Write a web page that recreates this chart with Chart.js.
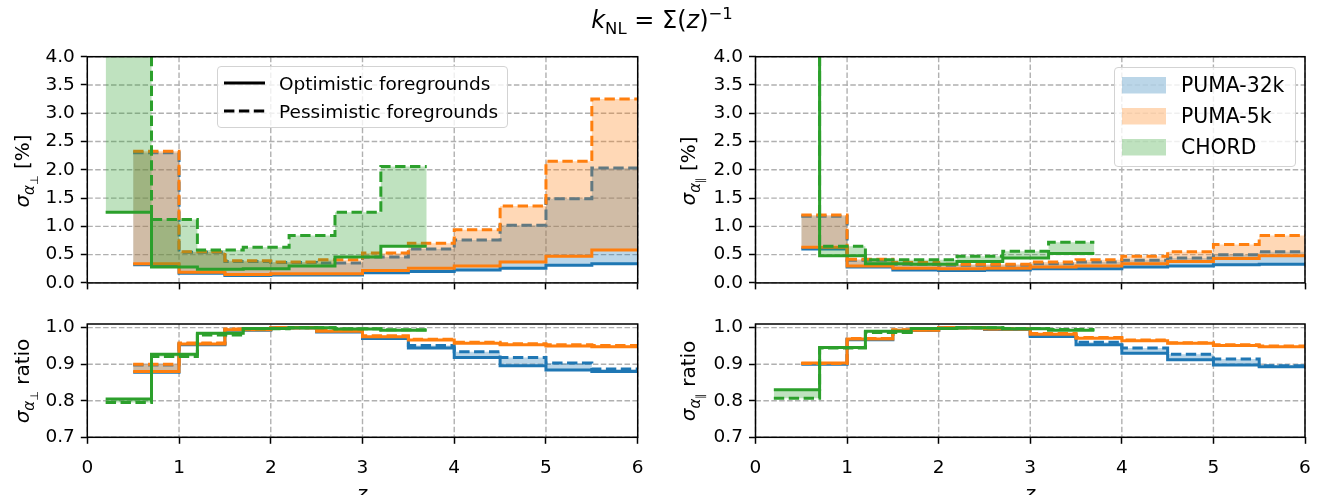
<!DOCTYPE html>
<html>
<head>
<meta charset="utf-8">
<script src="https://cdn.jsdelivr.net/npm/chart.js@4.4.0/dist/chart.umd.min.js"></script>
<style>
  body { margin: 0; width: 1325px; height: 495px; background: #fff; position: relative; overflow: hidden;
         font-family: 'DejaVu Sans', sans-serif; color: #000; }
  canvas { position: absolute; }
  .lbl { position: absolute; white-space: nowrap; transform: translate(-50%, -50%); }
  .rot { transform: translate(-50%, -50%) rotate(-90deg); }
  sub, sup { line-height: 0; }
  .legend { position: absolute; background: rgba(255,255,255,0.8); border: 1px solid #d3d3d3; border-radius: 4px; box-sizing: border-box; }
  .legend .row { position: absolute; left: 0; white-space: nowrap; }
</style>
</head>
<body>

<canvas id="perp" width="662" height="300" style="left:0;top:0"></canvas>
<canvas id="par" width="663" height="300" style="left:662px;top:0"></canvas>
<canvas id="perpRatio" width="662" height="195" style="left:0;top:300px"></canvas>
<canvas id="parRatio" width="663" height="195" style="left:662px;top:300px"></canvas>

<div class="lbl" style="left:662px;top:20px;font-size:24px"><i>k</i><sub style="font-size:16.5px">NL</sub> = Σ(<i>z</i>)<sup style="font-size:16.5px">−1</sup></div>

<div class="lbl rot" style="left:22px;top:171px;font-size:20px"><i>σ</i><sub style="font-size:15px"><i>α</i><sub style="font-size:11px">⊥</sub></sub> [%]</div>
<div class="lbl rot" style="left:22px;top:381px;font-size:20px"><i>σ</i><sub style="font-size:15px"><i>α</i><sub style="font-size:11px">⊥</sub></sub> ratio</div>
<div class="lbl rot" style="left:688px;top:171px;font-size:20px"><i>σ</i><sub style="font-size:15px"><i>α</i><sub style="font-size:11px">∥</sub></sub> [%]</div>
<div class="lbl rot" style="left:688px;top:381px;font-size:20px"><i>σ</i><sub style="font-size:15px"><i>α</i><sub style="font-size:11px">∥</sub></sub> ratio</div>
<div class="lbl" style="left:362px;top:493px;font-size:20px"><i>z</i></div>
<div class="lbl" style="left:1030px;top:493px;font-size:20px"><i>z</i></div>

<div class="legend" style="left:217px;top:66px;width:291px;height:62px;font-size:18.5px">
  <div class="row" style="top:4px"><svg width="60" height="24" style="vertical-align:middle"><line x1="6" y1="12" x2="47" y2="12" stroke="#000" stroke-width="3"/></svg><span style="margin-left:1px;vertical-align:middle">Optimistic foregrounds</span></div>
  <div class="row" style="top:32px"><svg width="60" height="24" style="vertical-align:middle"><line x1="6" y1="12" x2="47" y2="12" stroke="#000" stroke-width="3" stroke-dasharray="10.4 4.5"/></svg><span style="margin-left:1px;vertical-align:middle">Pessimistic foregrounds</span></div>
</div>

<div class="legend" style="left:1114px;top:67px;width:182px;height:100px;font-size:20.4px">
  <div class="row" style="top:4px"><svg width="66" height="26" style="vertical-align:middle"><rect x="7" y="5" width="44" height="16.5" fill="rgba(31,119,180,0.3)"/></svg><span style="vertical-align:middle">PUMA-32k</span></div>
  <div class="row" style="top:35px"><svg width="66" height="26" style="vertical-align:middle"><rect x="7" y="5" width="44" height="16.5" fill="rgba(255,127,14,0.3)"/></svg><span style="vertical-align:middle">PUMA-5k</span></div>
  <div class="row" style="top:66px"><svg width="66" height="26" style="vertical-align:middle"><rect x="7" y="5" width="44" height="16.5" fill="rgba(44,160,44,0.3)"/></svg><span style="vertical-align:middle">CHORD</span></div>
</div>

<script>
// redshift bin edges
const zPuma = [0.5, 1.0, 1.5, 2.0, 2.5, 3.0, 3.5, 4.0, 4.5, 5.0, 5.5, 6.0];
const zChord = [0.2, 0.7, 1.2, 1.7, 2.2, 2.7, 3.2, 3.7];

// sigma_alpha_perp [%]
const perp32kOpt  = [0.32, 0.17, 0.13, 0.14, 0.14, 0.18, 0.20, 0.23, 0.26, 0.31, 0.34];
const perp32kPess = [2.30, 0.54, 0.38, 0.36, 0.35, 0.46, 0.60, 0.76, 1.02, 1.49, 2.03];
const perp5kOpt   = [0.34, 0.19, 0.15, 0.16, 0.16, 0.22, 0.26, 0.30, 0.37, 0.47, 0.58];
const perp5kPess  = [2.33, 0.55, 0.39, 0.37, 0.41, 0.53, 0.70, 0.94, 1.36, 2.15, 3.25];
const perpChordOpt  = [1.25, 0.28, 0.24, 0.25, 0.30, 0.46, 0.65];
const perpChordPess = [9.00, 1.12, 0.58, 0.63, 0.84, 1.25, 2.06];

// sigma_alpha_par [%]
const par32kOpt  = [0.60, 0.28, 0.23, 0.22, 0.23, 0.25, 0.25, 0.28, 0.30, 0.32, 0.33];
const par32kPess = [1.18, 0.40, 0.33, 0.31, 0.31, 0.34, 0.37, 0.40, 0.44, 0.50, 0.55];
const par5kOpt   = [0.63, 0.30, 0.26, 0.25, 0.26, 0.28, 0.30, 0.34, 0.38, 0.43, 0.48];
const par5kPess  = [1.20, 0.42, 0.36, 0.33, 0.33, 0.37, 0.41, 0.47, 0.55, 0.68, 0.84];
const parChordOpt  = [6.00, 0.48, 0.34, 0.33, 0.38, 0.44, 0.52];
const parChordPess = [9.00, 0.65, 0.41, 0.41, 0.47, 0.56, 0.72];

// ratios, perpendicular
const perpR32kOpt  = [0.878, 0.953, 0.993, 1.000, 0.988, 0.970, 0.944, 0.918, 0.896, 0.884, 0.880];
const perpR32kPess = [0.898, 0.956, 0.995, 1.000, 0.990, 0.972, 0.951, 0.934, 0.918, 0.903, 0.887];
const perpR5kOpt   = [0.880, 0.955, 0.994, 1.000, 0.990, 0.975, 0.966, 0.957, 0.953, 0.950, 0.948];
const perpR5kPess  = [0.900, 0.958, 0.996, 1.000, 0.992, 0.978, 0.968, 0.960, 0.956, 0.953, 0.951];
const perpRChordOpt  = [0.805, 0.927, 0.985, 0.998, 1.000, 0.996, 0.993];
const perpRChordPess = [0.795, 0.921, 0.980, 0.997, 1.000, 0.997, 0.994];

// ratios, parallel
const parR32kOpt  = [0.900, 0.967, 0.992, 1.000, 0.995, 0.976, 0.953, 0.930, 0.912, 0.898, 0.893];
const parR32kPess = [0.902, 0.968, 0.993, 1.000, 0.996, 0.978, 0.960, 0.944, 0.927, 0.914, 0.896];
const parR5kOpt   = [0.903, 0.969, 0.993, 1.000, 0.996, 0.982, 0.971, 0.964, 0.957, 0.951, 0.948];
const parR5kPess  = [0.902, 0.970, 0.994, 1.000, 0.997, 0.984, 0.973, 0.966, 0.959, 0.953, 0.950];
const parRChordOpt  = [0.830, 0.946, 0.990, 0.998, 1.000, 0.997, 0.993];
const parRChordPess = [0.807, 0.944, 0.987, 0.998, 1.000, 0.998, 0.995];

const xTicks = [0, 1, 2, 3, 4, 5, 6];
const sigmaTicks = [0, 0.5, 1, 1.5, 2, 2.5, 3, 3.5, 4];
const ratioTicks = [0.7, 0.8, 0.9, 1.0];

const BLUE = '#1f77b4', ORANGE = '#ff7f0e', GREEN = '#2ca02c';
const LW = 3;

// bin values -> points for a post-step line
function steps(edges, vals) {
  const pts = vals.map((v, i) => ({x: edges[i], y: v}));
  pts.push({x: edges[edges.length - 1], y: vals[vals.length - 1]});
  return pts;
}

function band(color, fillColor, edges, opt, pess, order) {
  return [
    {data: steps(edges, opt), borderColor: color, borderWidth: LW, stepped: 'before',
     fill: false, pointRadius: 0, order: order + 1},
    {data: steps(edges, pess), borderColor: color, borderWidth: LW, borderDash: [10.4, 4.5],
     stepped: 'before', fill: '-1', backgroundColor: fillColor, pointRadius: 0, order: order}
  ];
}

const gridLines = {
  id: 'gridLines',
  beforeDatasetsDraw(chart) {
    const {ctx, chartArea: a, scales: {x, y}} = chart;
    ctx.save();
    ctx.strokeStyle = '#b0b0b0';
    ctx.lineWidth = 1.4;
    ctx.setLineDash([5.5, 2.4]);
    x.ticks.forEach(t => {
      const px = x.getPixelForValue(t.value);
      ctx.beginPath(); ctx.moveTo(px, a.top); ctx.lineTo(px, a.bottom); ctx.stroke();
    });
    y.ticks.forEach(t => {
      const py = y.getPixelForValue(t.value);
      ctx.beginPath(); ctx.moveTo(a.left, py); ctx.lineTo(a.right, py); ctx.stroke();
    });
    ctx.restore();
  }
};

const frame = {
  id: 'frame',
  afterDatasetsDraw(chart) {
    const {ctx, chartArea: a} = chart;
    ctx.save();
    ctx.strokeStyle = '#000';
    ctx.lineWidth = 1.5;
    ctx.strokeRect(a.left, a.top, a.right - a.left, a.bottom - a.top);
    ctx.restore();
  }
};

function makePanel(id, datasets, opts) {
  const tickFont = {family: 'DejaVu Sans', size: 18.5};
  new Chart(document.getElementById(id), {
    type: 'line',
    data: {datasets},
    options: {
      responsive: false,
      animation: false,
      events: [],
      layout: {padding: {top: opts.padT, right: opts.padR, left: 0, bottom: 0}},
      plugins: {legend: {display: false}, tooltip: {enabled: false}},
      scales: {
        x: {
          type: 'linear', min: 0, max: 6,
          afterBuildTicks: s => { s.ticks = xTicks.map(v => ({value: v})); },
          afterFit: s => { s.height = opts.xH; },
          border: {display: false},
          grid: {drawOnChartArea: false, drawTicks: true, tickLength: 6.5, tickColor: '#000', tickWidth: 1.5},
          ticks: {display: opts.xLabels, font: tickFont, color: '#000', padding: 13, maxRotation: 0,
                  callback: v => String(v)}
        },
        y: {
          type: 'linear', min: opts.yMin, max: opts.yMax,
          afterBuildTicks: s => { s.ticks = opts.yTicks.map(v => ({value: v})); },
          afterFit: s => { s.width = opts.yW; },
          border: {display: false},
          grid: {drawOnChartArea: false, drawTicks: true, tickLength: 6.5, tickColor: '#000', tickWidth: 1.5},
          ticks: {font: tickFont, color: '#000', padding: 6, callback: v => v.toFixed(1)}
        }
      }
    },
    plugins: [gridLines, frame]
  });
}

const fills = ['rgba(31,119,180,0.3)', 'rgba(255,127,14,0.3)', 'rgba(44,160,44,0.3)'];

function panelSets(b32o, b32p, b5o, b5p, cho, chp) {
  return [
    ...band(BLUE, fills[0], zPuma, b32o, b32p, 5),
    ...band(ORANGE, fills[1], zPuma, b5o, b5p, 3),
    ...band(GREEN, fills[2], zChord, cho, chp, 1)
  ];
}

const upperOpts = {padT: 56.7, xH: 15.7, yMin: 0, yMax: 4, yTicks: sigmaTicks, xLabels: false};
const lowerOpts = {padT: 24, xH: 57.7, yMin: 0.7, yMax: 1.01, yTicks: ratioTicks, xLabels: true};

makePanel('perp', panelSets(perp32kOpt, perp32kPess, perp5kOpt, perp5kPess, perpChordOpt, perpChordPess),
  {...upperOpts, yW: 87.3, padR: 24.3});
makePanel('par', panelSets(par32kOpt, par32kPess, par5kOpt, par5kPess, parChordOpt, parChordPess),
  {...upperOpts, yW: 93.5, padR: 20});
makePanel('perpRatio', panelSets(perpR32kOpt, perpR32kPess, perpR5kOpt, perpR5kPess, perpRChordOpt, perpRChordPess),
  {...lowerOpts, yW: 87.3, padR: 24.3});
makePanel('parRatio', panelSets(parR32kOpt, parR32kPess, parR5kOpt, parR5kPess, parRChordOpt, parRChordPess),
  {...lowerOpts, yW: 93.5, padR: 20});
</script>
</body>
</html>
